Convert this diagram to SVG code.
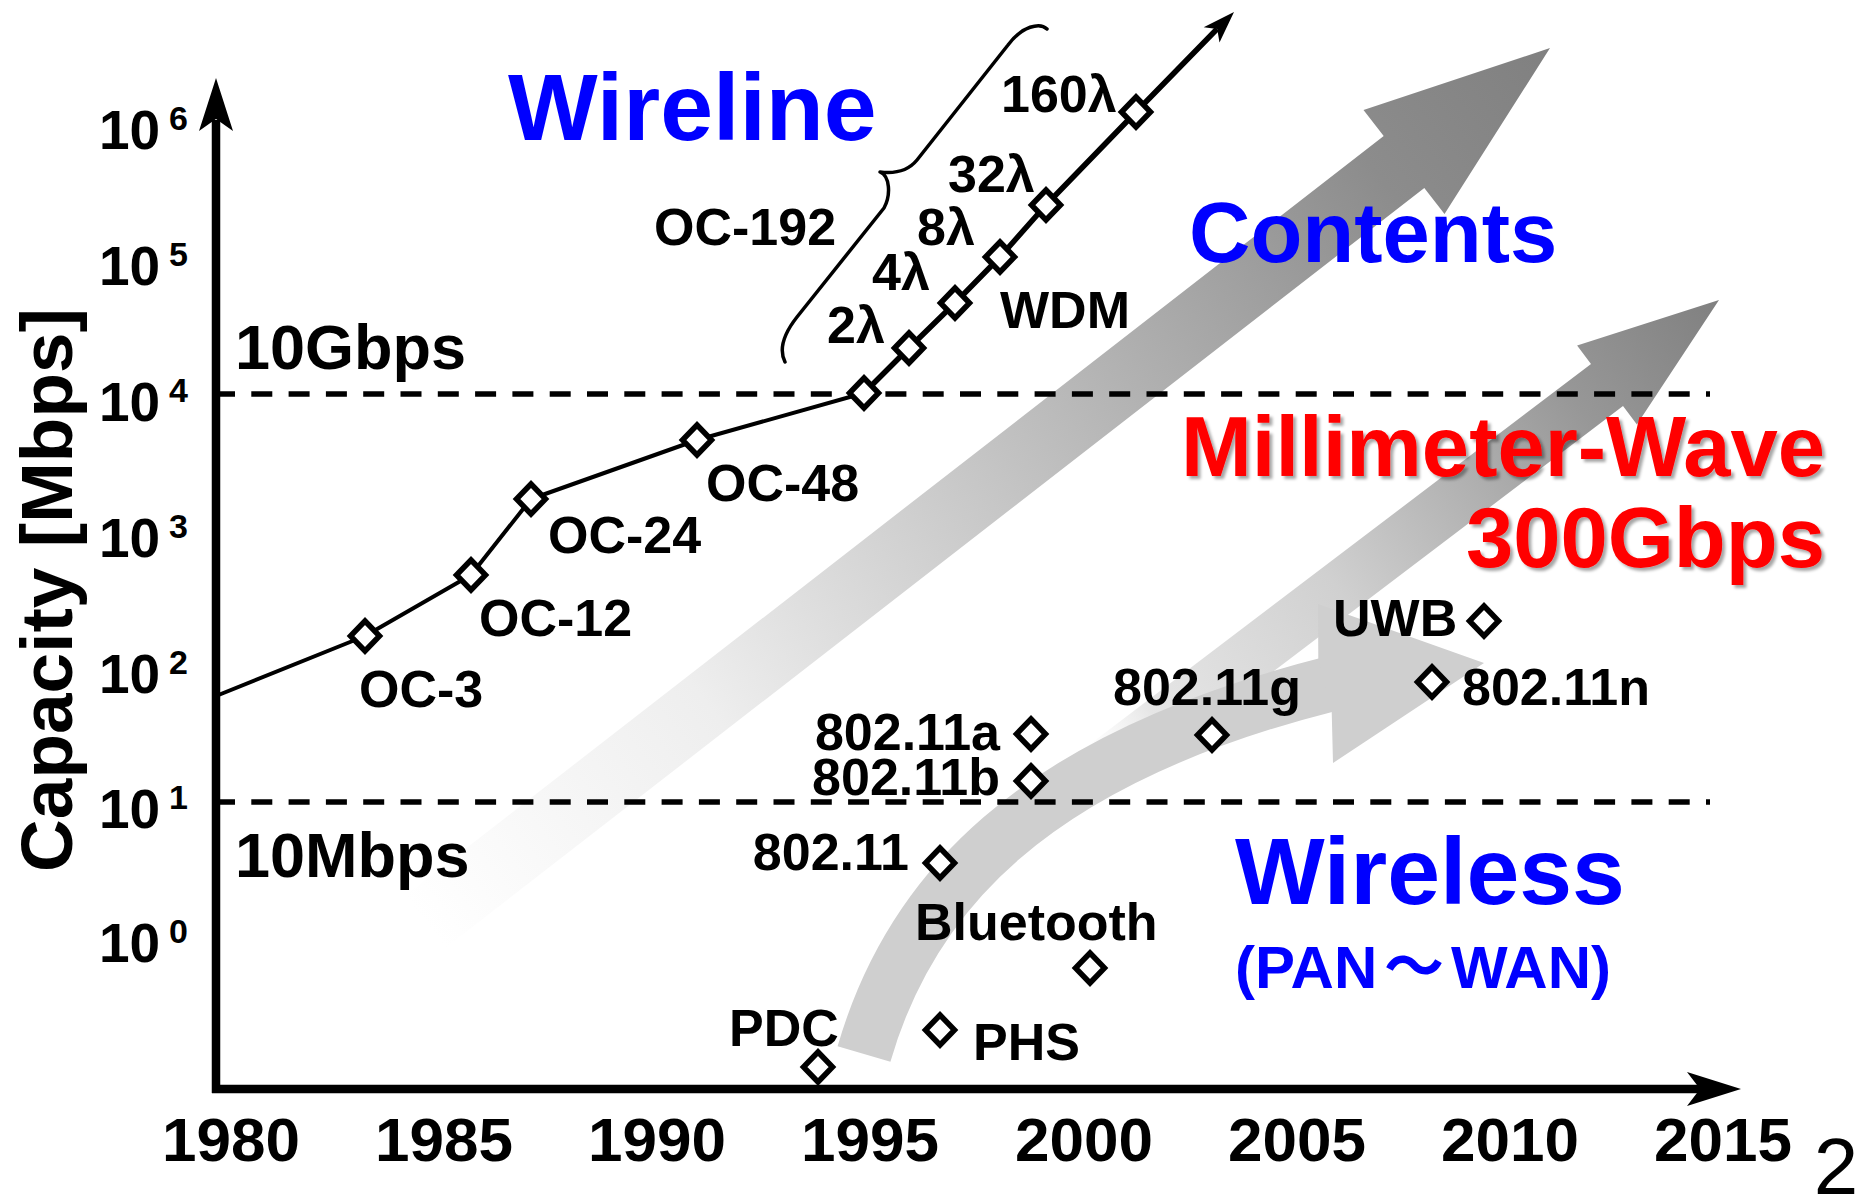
<svg xmlns="http://www.w3.org/2000/svg" width="1864" height="1200" viewBox="0 0 1864 1200">
  <defs>
    <style>
      text { font-family: "Liberation Sans", Arial, sans-serif; font-weight: bold; fill: #000; }
      .tick { font-size: 62px; text-anchor: middle; }
      .dec { font-size: 55px; }
      .sup { font-size: 34px; }
      .lbl { font-size: 52px; }
      .end { text-anchor: end; }
      .plain { font-weight: normal; }
      .blue { fill: #0000ff; }
      .red { fill: #ff0000; filter: url(#shadow); }
      .dash { stroke: #000; stroke-width: 5.5; stroke-dasharray: 21 16.3; fill: none; }
      .dia { fill: #fff; stroke: #000; stroke-width: 5.5; stroke-linejoin: miter; }
      .axis { stroke: #000; stroke-width: 8.5; fill: none; }
    </style>
    <filter id="shadow" x="-5%" y="-10%" width="115%" height="130%">
      <feDropShadow dx="3" dy="3" stdDeviation="1.5" flood-color="#000" flood-opacity="0.35"/>
    </filter>
    <linearGradient id="gContents" gradientUnits="userSpaceOnUse" x1="425" y1="922" x2="1550" y2="48">
      <stop offset="0" stop-color="#ffffff"/>
      <stop offset="0.25" stop-color="#eeeeee"/>
      <stop offset="0.5" stop-color="#c6c6c6"/>
      <stop offset="0.85" stop-color="#8c8c8c"/>
      <stop offset="1" stop-color="#808080"/>
    </linearGradient>
    <linearGradient id="gMmw" gradientUnits="userSpaceOnUse" x1="1084" y1="782" x2="1719" y2="300">
      <stop offset="0" stop-color="#ffffff" stop-opacity="0"/>
      <stop offset="0.12" stop-color="#e6e6e6"/>
      <stop offset="0.4" stop-color="#d0d0d0"/>
      <stop offset="0.78" stop-color="#979797"/>
      <stop offset="1" stop-color="#808080"/>
    </linearGradient>
    <path id="dia" class="dia" d="M0,-15 L14.5,0 L0,15 L-14.5,0 Z"/>
  </defs>

  <rect width="1864" height="1200" fill="#fff"/>

  <!-- broad trend arrows behind the chart -->
  <g id="trends">
    <polygon id="trend-contents" fill="url(#gContents)"
      points="1550,48 1444.5,214 1424.3,188 445.3,948 404.7,896 1383.7,136 1363.5,110"/>
    <polygon id="trend-mmw" fill="url(#gMmw)"
      points="1719,300 1636.9,424.5 1623,406.1 1100.2,803 1068.2,760.8 1591,363.9 1577.1,345.5"/>
    <g id="trend-wireless" fill="#cfcfcf">
      <path d="M864,1054 C910,895 1030,760 1330,684" fill="none" stroke="#cfcfcf" stroke-width="55"/>
      <polygon points="1318,604 1484,663 1333,763 1331.7,711.2 1318.3,658.8"/>
    </g>
  </g>

  <!-- reference levels: 10 Gbps and 10 Mbps -->
  <g id="levels">
    <path class="dash" d="M214,394 H1710"/>
    <path class="dash" d="M214,802 H1710"/>
  </g>

  <!-- axes -->
  <g id="axes">
    <path class="axis" d="M216,1093 V120"/>
    <polygon points="216,78 199,131 216,119 233,131"/>
    <path class="axis" d="M212,1089 H1702"/>
    <polygon points="1741,1089 1687,1072 1700,1089 1687,1106"/>
  </g>

  <!-- axis labels -->
  <g id="y-label">
    <text transform="translate(72,590) rotate(-90)" text-anchor="middle" font-size="73">Capacity [Mbps]</text>
  </g>
  <g id="y-ticks">
    <text class="dec" x="99" y="149">10<tspan class="sup" x="169" dy="-19">6</tspan></text>
    <text class="dec" x="99" y="285">10<tspan class="sup" x="169" dy="-19">5</tspan></text>
    <text class="dec" x="99" y="421">10<tspan class="sup" x="169" dy="-19">4</tspan></text>
    <text class="dec" x="99" y="557">10<tspan class="sup" x="169" dy="-19">3</tspan></text>
    <text class="dec" x="99" y="693">10<tspan class="sup" x="169" dy="-19">2</tspan></text>
    <text class="dec" x="99" y="828">10<tspan class="sup" x="169" dy="-19">1</tspan></text>
    <text class="dec" x="99" y="962">10<tspan class="sup" x="169" dy="-19">0</tspan></text>
  </g>
  <g id="x-ticks">
    <text class="tick" x="231" y="1161">1980</text>
    <text class="tick" x="444" y="1161">1985</text>
    <text class="tick" x="657" y="1161">1990</text>
    <text class="tick" x="870" y="1161">1995</text>
    <text class="tick" x="1084" y="1161">2000</text>
    <text class="tick" x="1297" y="1161">2005</text>
    <text class="tick" x="1510" y="1161">2010</text>
    <text class="tick" x="1723" y="1161">2015</text>
  </g>

  <!-- wireline capacity curve -->
  <g id="connectors" fill="none" stroke="#000" stroke-linejoin="round">
    <polyline stroke-width="4" points="216,696 365,636 471,575 531,499 697,440 864,393"/>
    <polyline stroke-width="5.5" points="864,393 909,348 955,303 1000,257 1046,205 1136,112 1217,29"/>
    <polygon fill="#000" stroke="none" points="1234,12 1219.5,42.6 1217.2,29.1 1203.7,27.2"/>
  </g>

  <!-- brace grouping the WDM steps -->
  <g id="brace">
    <path d="M1047,29 C1040,22 1022,26 1008,45 L917,160 C908,171 896,174 880,172 C890,176 891,195 884,208 L797,317 C786,331 778,348 785,362"
      fill="none" stroke="#000" stroke-width="3.5" stroke-linecap="round" stroke-linejoin="round"/>
  </g>

  <!-- wireline points -->
  <g id="oc3"><use href="#dia" x="365" y="636"/><text class="lbl" x="359" y="707">OC-3</text></g>
  <g id="oc12"><use href="#dia" x="471" y="575"/><text class="lbl" x="479" y="636">OC-12</text></g>
  <g id="oc24"><use href="#dia" x="531" y="499"/><text class="lbl" x="548" y="553">OC-24</text></g>
  <g id="oc48"><use href="#dia" x="697" y="440"/><text class="lbl" x="706" y="501">OC-48</text></g>
  <g id="oc192"><use href="#dia" x="864" y="393"/><text class="lbl" x="654" y="245">OC-192</text></g>
  <g id="wdm-2"><use href="#dia" x="909" y="348"/><text class="lbl" x="827" y="343">2λ</text></g>
  <g id="wdm-4"><use href="#dia" x="955" y="303"/><text class="lbl" x="872" y="290">4λ</text></g>
  <g id="wdm-8"><use href="#dia" x="1000" y="257"/><text class="lbl" x="917" y="245">8λ</text></g>
  <g id="wdm-32"><use href="#dia" x="1046" y="205"/><text class="lbl" x="948" y="192">32λ</text></g>
  <g id="wdm-160"><use href="#dia" x="1136" y="112"/><text class="lbl" x="1001" y="112">160λ</text></g>
  <g id="wdm"><text class="lbl" x="1000" y="328">WDM</text></g>

  <!-- wireless points -->
  <g id="pdc"><use href="#dia" x="818" y="1067"/><text class="lbl" x="729" y="1046">PDC</text></g>
  <g id="phs"><use href="#dia" x="940" y="1030"/><text class="lbl" x="973" y="1060">PHS</text></g>
  <g id="bluetooth"><use href="#dia" x="1090" y="968"/><text class="lbl" x="915" y="940">Bluetooth</text></g>
  <g id="w80211"><use href="#dia" x="940" y="863"/><text class="lbl end" x="909" y="870">802.11</text></g>
  <g id="w80211b"><use href="#dia" x="1031" y="781"/><text class="lbl end" x="1000" y="795">802.11b</text></g>
  <g id="w80211a"><use href="#dia" x="1031" y="734"/><text class="lbl end" x="1000" y="750">802.11a</text></g>
  <g id="w80211g"><use href="#dia" x="1212" y="735"/><text class="lbl" x="1113" y="705">802.11g</text></g>
  <g id="w80211n"><use href="#dia" x="1432" y="682"/><text class="lbl" x="1462" y="705">802.11n</text></g>
  <g id="uwb"><use href="#dia" x="1484" y="621"/><text class="lbl" x="1333" y="636">UWB</text></g>

  <!-- level captions -->
  <g id="level-10g"><text x="235" y="369" font-size="63">10Gbps</text></g>
  <g id="level-10m"><text x="235" y="877" font-size="63">10Mbps</text></g>

  <!-- headings -->
  <g id="title-wireline"><text class="blue" x="508" y="140" font-size="95">Wireline</text></g>
  <g id="title-contents"><text class="blue" x="1189" y="262" font-size="85">Contents</text></g>
  <g id="title-mmw">
    <text class="red end" x="1825" y="476" font-size="85">Millimeter-Wave</text>
    <text class="red end" x="1825" y="567" font-size="85">300Gbps</text>
  </g>
  <g id="title-wireless">
    <text class="blue" x="1235" y="904" font-size="95">Wireless</text>
    <text class="blue" x="1235" y="988" font-size="60">(PAN<tspan x="1384" font-family="'Noto Sans CJK JP', sans-serif">～</tspan><tspan x="1451">WAN)</tspan></text>
  </g>

  <g id="page-number"><text class="plain" x="1836" y="1194" text-anchor="middle" font-size="80">2</text></g>
</svg>
